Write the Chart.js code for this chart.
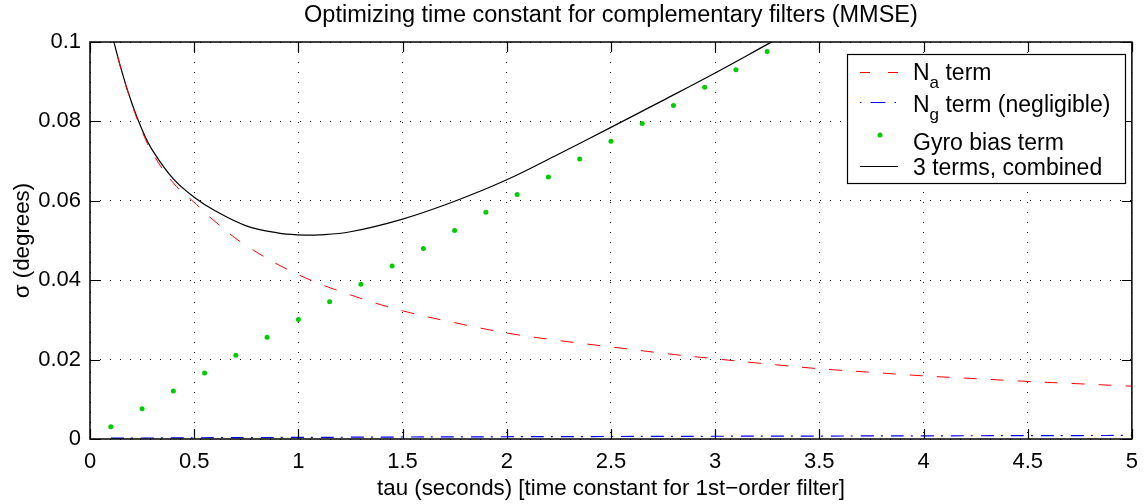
<!DOCTYPE html>
<html>
<head>
<meta charset="utf-8">
<title>Optimizing time constant for complementary filters</title>
<script src="https://cdn.jsdelivr.net/npm/chart.js@4.4.1/dist/chart.umd.min.js"></script>
<style>
  html, body { margin: 0; padding: 0; background: #fff; }
  #chart { display: block; }
</style>
</head>
<body>
<canvas id="chart" width="1148" height="504"></canvas>
<script>
// values
const tau = [0.1, 0.15, 0.2, 0.25, 0.3, 0.4, 0.5, 0.6, 0.75, 1, 1.25, 1.5, 1.75, 2, 2.25, 2.5, 2.75, 3, 3.25, 3.5, 3.75, 4, 4.25, 4.5, 4.75, 5];
const naTerm = [0.103, 0.093, 0.0845, 0.0775, 0.072, 0.0645, 0.0596, 0.0548, 0.0487, 0.0414, 0.0363, 0.0323, 0.0293, 0.0267, 0.0248, 0.0232, 0.0216, 0.0202, 0.0189, 0.0177, 0.0168, 0.0159, 0.0152, 0.0145, 0.0139, 0.0133];
const ngTerm = [0.0002, 0.0002, 0.0002, 0.00025, 0.00025, 0.0003, 0.0003, 0.00033, 0.00036, 0.0004, 0.00045, 0.0005, 0.00053, 0.00057, 0.0006, 0.00063, 0.00066, 0.00069, 0.00072, 0.00074, 0.00077, 0.0008, 0.00082, 0.00085, 0.00087, 0.0009];

const combTau = [0.1, 0.15, 0.2, 0.25, 0.3, 0.4, 0.5, 0.6, 0.75, 0.9, 1, 1.1, 1.25, 1.5, 1.75, 2, 2.25, 2.5, 2.75, 3, 3.25, 3.5];
const combined = [0.103, 0.0931, 0.0847, 0.0779, 0.0727, 0.0655, 0.0609, 0.0575, 0.0537, 0.0519, 0.0514, 0.0514, 0.0522, 0.0554, 0.0599, 0.0653, 0.0718, 0.0785, 0.0853, 0.0922, 0.0994, 0.1066];

const biasTau = [0.1, 0.25, 0.4, 0.55, 0.7, 0.85, 1, 1.15, 1.3, 1.45, 1.6, 1.75, 1.9, 2.05, 2.2, 2.35, 2.5, 2.65, 2.8, 2.95, 3.1, 3.25];
const gyroBias = [0.0031, 0.0076, 0.0121, 0.0166, 0.0211, 0.0256, 0.0301, 0.0346, 0.039, 0.0436, 0.048, 0.0525, 0.0571, 0.0616, 0.066, 0.0705, 0.075, 0.0795, 0.084, 0.0886, 0.093, 0.0976];

const xTickLabels = ["0", "0.5", "1", "1.5", "2", "2.5", "3", "3.5", "4", "4.5", "5"];
const yTickLabels = ["0", "0.02", "0.04", "0.06", "0.08", "0.1"];

const FONT = "'Liberation Sans', Arial, Helvetica, sans-serif";
const GREEN = "#00cc00";

const toXY = (xs, ys) => xs.map((x, i) => ({ x: x, y: ys[i] }));

// title, axis labels, inward ticks, frame and the legend (it has subscripts)
const matlabLook = {
  id: "matlabLook",
  afterDatasetsDraw(chart) {
    const ctx = chart.ctx;
    const a = chart.chartArea;
    const xs = chart.scales.x;
    const ys = chart.scales.y;
    ctx.save();

    // frame
    ctx.strokeStyle = "#000";
    ctx.lineWidth = 1.5;
    ctx.strokeRect(a.left, a.top, a.right - a.left, a.bottom - a.top);

    // inward tick marks on all four sides
    ctx.lineWidth = 1.2;
    ctx.beginPath();
    xs.ticks.forEach((t) => {
      const px = Math.round(xs.getPixelForValue(t.value)) + 0.5;
      ctx.moveTo(px, a.bottom); ctx.lineTo(px, a.bottom - 10);
      ctx.moveTo(px, a.top); ctx.lineTo(px, a.top + 10);
    });
    ys.ticks.forEach((t) => {
      const py = Math.round(ys.getPixelForValue(t.value)) + 0.5;
      ctx.moveTo(a.left, py); ctx.lineTo(a.left + 10, py);
      ctx.moveTo(a.right, py); ctx.lineTo(a.right - 10, py);
    });
    ctx.stroke();

    // texts
    ctx.fillStyle = "#000";
    ctx.textAlign = "center";
    ctx.textBaseline = "middle";
    const cx = (a.left + a.right) / 2;
    ctx.font = "23.5px " + FONT;
    ctx.fillText("Optimizing time constant for complementary filters (MMSE)", cx, 16);
    ctx.font = "22.3px " + FONT;
    ctx.fillText("tau (seconds) [time constant for 1st\u2212order filter]", cx, 489);
    ctx.save();
    ctx.translate(23, (a.top + a.bottom) / 2);
    ctx.rotate(-Math.PI / 2);
    ctx.fillText("\u03c3 (degrees)", 0, 0);
    ctx.restore();

    // legend box
    const L = 847, T = 54, R = 1125, B = 183;
    ctx.fillStyle = "#fff";
    ctx.fillRect(L, T, R - L, B - T);
    ctx.lineWidth = 1.2;
    ctx.strokeStyle = "#000";
    ctx.strokeRect(L + 0.5, T + 0.5, R - L, B - T);

    const x0 = 860, x1 = 898, tx = 913;
    ctx.lineWidth = 1;
    // Na sample
    ctx.strokeStyle = "#ff0000";
    ctx.setLineDash([10, 18]);
    ctx.beginPath(); ctx.moveTo(x0, 72.5); ctx.lineTo(x1, 72.5); ctx.stroke();
    // Ng sample
    ctx.strokeStyle = "#0000ff";
    ctx.lineWidth = 1.2;
    ctx.setLineDash([1.5, 9, 15, 9]);
    ctx.beginPath(); ctx.moveTo(x0, 102.5); ctx.lineTo(x1 + 1, 102.5); ctx.stroke();
    ctx.setLineDash([]);
    ctx.lineWidth = 1;
    // gyro dot
    ctx.fillStyle = GREEN;
    ctx.beginPath(); ctx.arc(880, 135, 2.5, 0, Math.PI * 2); ctx.fill();
    // combined sample
    ctx.strokeStyle = "#000";
    ctx.beginPath(); ctx.moveTo(x0, 166.5); ctx.lineTo(x1, 166.5); ctx.stroke();

    ctx.fillStyle = "#000";
    ctx.textAlign = "left";
    ctx.textBaseline = "alphabetic";
    const big = "23px " + FONT;
    const subText = (main, sub, rest, base) => {
      ctx.font = big;
      ctx.fillText(main, tx, base);
      let w = ctx.measureText(main).width;
      ctx.font = "17px " + FONT;
      ctx.fillText(sub, tx + w, base + 8);
      w += ctx.measureText(sub).width;
      ctx.font = big;
      ctx.fillText(rest, tx + w, base);
    };
    subText("N", "a", " term", 80);
    subText("N", "g", " term (negligible)", 112);
    ctx.font = big;
    ctx.fillText("Gyro bias term", tx, 150);
    ctx.fillText("3 terms, combined", tx, 175);

    ctx.restore();
  }
};

new Chart(document.getElementById("chart"), {
  type: "line",
  data: {
    datasets: [
      {
        label: "Na term",
        data: toXY(tau, naTerm),
        borderColor: "#ff0000",
        borderWidth: 1,
        borderDash: [13, 14],
        pointRadius: 0,
        tension: 0.4
      },
      {
        label: "Ng term (negligible)",
        data: toXY(tau, ngTerm),
        borderColor: "#0000ff",
        borderWidth: 1.2,
        borderDash: [13, 7, 2, 8],
        pointRadius: 0,
        tension: 0.4
      },
      {
        label: "Gyro bias term",
        data: toXY(biasTau, gyroBias),
        showLine: false,
        pointRadius: 2.5,
        pointBorderWidth: 0,
        pointBackgroundColor: GREEN,
        borderColor: GREEN
      },
      {
        label: "3 terms, combined",
        data: toXY(combTau, combined),
        borderColor: "#000",
        borderWidth: 1.2,
        pointRadius: 0,
        tension: 0.4
      }
    ]
  },
  options: {
    responsive: false,
    animation: false,
    devicePixelRatio: 1,
    layout: { padding: { top: 42, right: 12, left: 0, bottom: 0 } },
    plugins: {
      legend: { display: false },
      title: { display: false },
      tooltip: { enabled: false }
    },
    scales: {
      x: {
        type: "linear",
        min: 0,
        max: 5,
        ticks: {
          stepSize: 0.5,
          padding: 10,
          color: "#000",
          font: { family: FONT, size: 22 },
          maxRotation: 0,
          callback: (v, i) => xTickLabels[i]
        },
        grid: { color: "#000", lineWidth: 1, drawTicks: false },
        border: { display: false, dash: [1, 9] },
        afterFit: (s) => { s.height = 65; }
      },
      y: {
        type: "linear",
        min: 0,
        max: 0.1,
        ticks: {
          stepSize: 0.02,
          padding: 9,
          color: "#000",
          font: { family: FONT, size: 22 },
          callback: (v, i) => yTickLabels[i]
        },
        grid: { color: "#000", lineWidth: 1, drawTicks: false },
        border: { display: false, dash: [1, 9] },
        afterFit: (s) => { s.width = 90; }
      }
    }
  },
  plugins: [matlabLook]
});
</script>
</body>
</html>
